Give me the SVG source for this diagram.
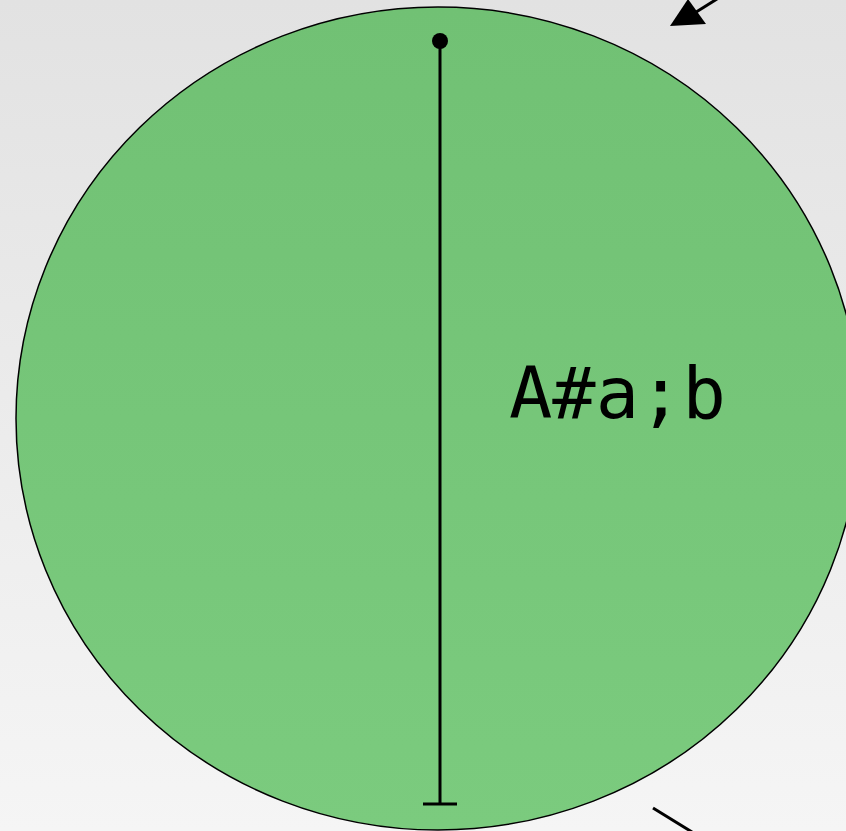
<svg xmlns="http://www.w3.org/2000/svg" width="846" height="831" viewBox="0 0 846 831">
<defs>
<linearGradient id="bg" x1="0" y1="0" x2="0" y2="1"><stop offset="0" stop-color="#e2e2e2"/><stop offset="1" stop-color="#f5f5f5"/></linearGradient>
<linearGradient id="gf" x1="0" y1="0" x2="0" y2="1"><stop offset="0" stop-color="#71c174"/><stop offset="1" stop-color="#7bcb7e"/></linearGradient>
<style>.ln{stroke:#000;stroke-width:3;fill:none}.lbl{font-family:"DejaVu Sans Mono",monospace;font-size:72px;fill:#000}</style>
</defs>
<rect width="846" height="831" fill="url(#bg)"/>
<g id="nodeA">
<ellipse cx="438" cy="418.5" rx="422" ry="411.5" fill="url(#gf)" stroke="#000" stroke-width="1.5"/>
<text class="lbl" x="509" y="418">A#a;b</text>
</g>
<g id="connectors">
<line class="ln" x1="440" y1="41" x2="440" y2="804"/>
<circle cx="440" cy="41" r="8" fill="#000"/>
<line class="ln" x1="423" y1="804" x2="457" y2="804"/>
<line class="ln" x1="717" y1="-1" x2="693" y2="14"/>
<polygon points="670,26 706,24 688,-1" fill="#000"/>
<line class="ln" x1="653" y1="808" x2="692" y2="832"/>
</g>
</svg>
